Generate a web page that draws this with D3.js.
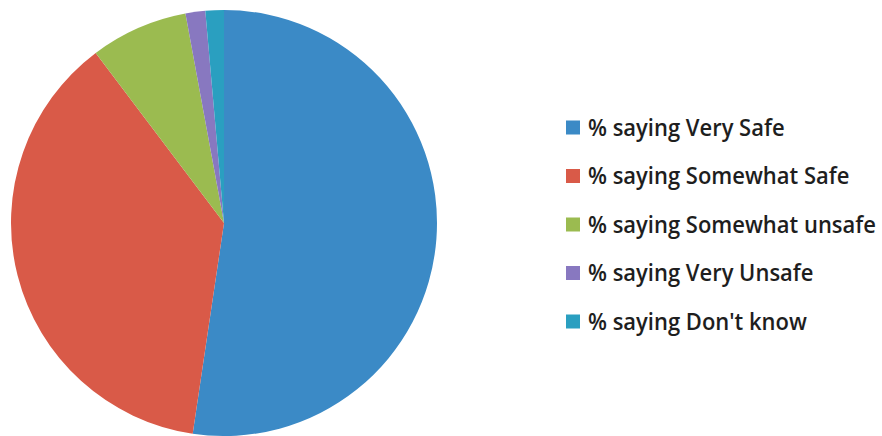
<!DOCTYPE html>
<html><head><meta charset="utf-8">
<script src="https://cdn.jsdelivr.net/npm/d3@7"></script>
<style>html,body{margin:0;padding:0;background:#fff;}</style>
</head><body>
<svg id="c" width="882" height="436"></svg>
<script>
const categories = ["% saying Very Safe","% saying Somewhat Safe","% saying Somewhat unsafe","% saying Very Unsafe","% saying Don't know"];
const values = [52.4, 37.4, 7.4, 1.5, 1.4];
const colors = ["#3b8ac6","#d95a48","#9bbb50","#8878c0","#2a9fc0"];

const svg = d3.select("#c");
const cx = 224, cy = 223, r = 213;
const pie = d3.pie().sort(null).value(d => d)(values);
const arc = d3.arc().innerRadius(0).outerRadius(r);
const g = svg.append("g").attr("transform", `translate(${cx},${cy})`);
g.selectAll("path").data(pie).enter().append("path")
  .attr("d", arc).attr("fill", (d,i) => colors[i]);

const leg = svg.append("g");
const y0 = 127.5, dy = 48.5;
const items = leg.selectAll("g").data(categories).enter().append("g")
  .attr("transform", (d,i) => `translate(566,${y0 + i*dy})`);
items.append("rect").attr("x",0).attr("y",-7).attr("width",14).attr("height",14)
  .attr("fill",(d,i)=>colors[i]);
const texts = items.append("text").attr("x",0).attr("y",0).attr("dy","0.36em")
  .attr("fill","#1e1e1e").style("font-family","'Open Sans', sans-serif").style("font-weight","600")
  .style("font-size","23px").text(d=>d);
let maxW = 0;
texts.each(function(){ maxW = Math.max(maxW, this.getComputedTextLength()); });
const sx = 288 / maxW;
texts.attr("transform", `translate(22,0) scale(${sx},1)`);
</script>
</body></html>
